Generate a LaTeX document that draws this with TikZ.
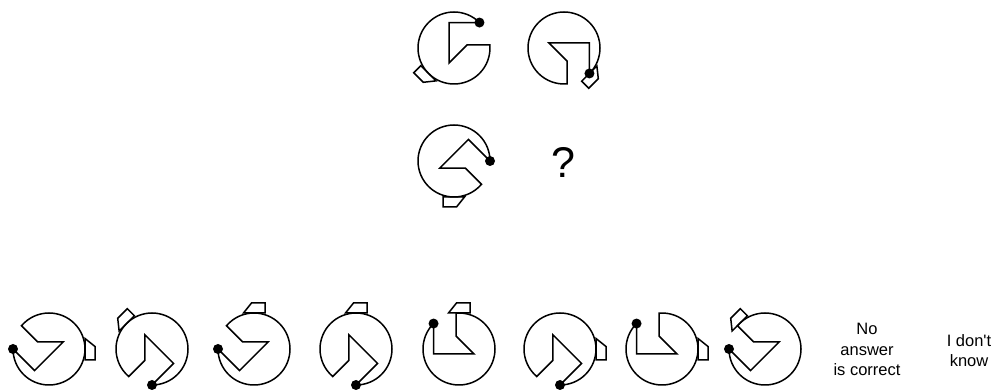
\documentclass[tikz,border=0pt]{standalone}
\usepackage{fontspec}
\setmainfont{Liberation Sans}[Ligatures=TeXOff]
\newcommand\puzzlefig[4]{%
  \begin{scope}[shift={(#1,#2)}]
    \begin{scope}[rotate=#3]
      \draw[figline] (45:36) arc[start angle=45,end angle=364.78,radius=36pt]
        -- (13,3) -- (-5,-15) -- (-5,25.456) -- cycle;
      \fill (45:36) circle[radius=5pt];
    \end{scope}
    \begin{scope}[rotate={#4-270}]
      \draw[figline] (-11,-36) -- (10.5,-36) -- (2.5,-46) -- (-11,-46) -- cycle;
    \end{scope}
  \end{scope}}
\begin{document}
\begin{tikzpicture}[x=1pt,y=1pt,
  figline/.style={line width=1.5pt, line join=miter},
  lbl/.style={inner sep=0pt, font=\fontsize{16.5}{20}\selectfont, anchor=base}]
\useasboundingbox (0,0) rectangle (995,390);
% top row
\puzzlefig{454}{342}{0}{225}
\puzzlefig{564}{342}{-90}{315}
% second row
\puzzlefig{454}{229}{-45}{270}
\node[inner sep=0pt, font=\fontsize{43}{43}\selectfont, anchor=base] (q) at (563,212) {?};
% answers
\puzzlefig{49}{41}{135}{0}
\puzzlefig{152}{41}{-135}{135}
\puzzlefig{254}{41}{135}{90}
\puzzlefig{356}{41}{-135}{90}
\puzzlefig{459}{41}{90}{90}
\puzzlefig{560}{41}{-135}{0}
\puzzlefig{662}{41}{90}{0}
\puzzlefig{765}{41}{135}{135}
\node[lbl] (no1) at (867,55) {No};
\node[lbl] (no2) at (867,34.5) {answer};
\node[lbl] (no3) at (867,14) {is correct};
\node[lbl] (dk1) at (969,43) {I don't};
\node[lbl] (dk2) at (969,23.5) {know};
\end{tikzpicture}
\end{document}
